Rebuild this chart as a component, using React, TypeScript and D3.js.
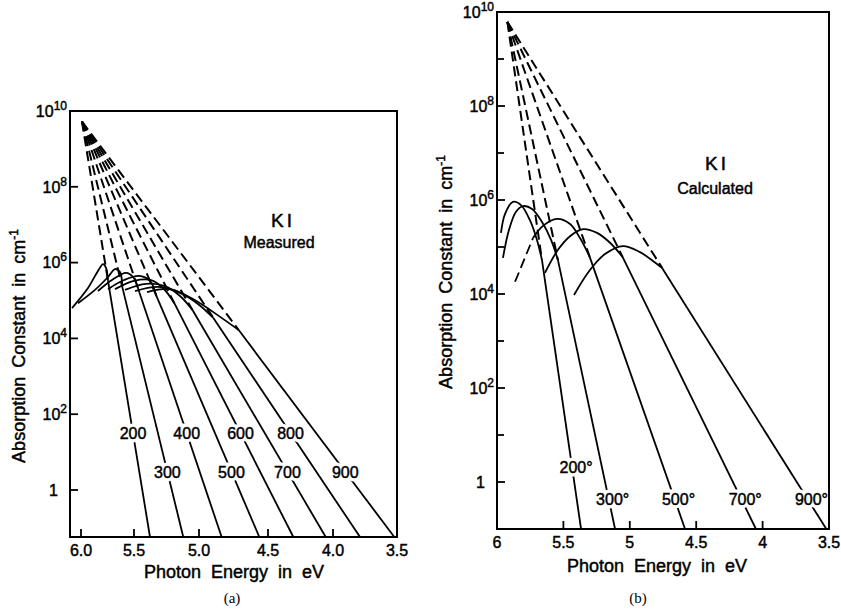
import React from 'react';
import * as d3 from 'd3';

const W = 841;
const H = 611;

// ---------- (a) Measured ----------
const measuredTemps = ['200', '300', '400', '500', '600', '700', '800', '900'];
const measuredApex = [5.991, 9.72]; // [eV, log10 alpha]
const measuredLineEnd = [5.377, 5.121, 4.836, 4.563, 4.305, 4.056, 3.789, 3.521];
const measuredMergeLog = [5.54, 5.36, 5.22, 5.12, 4.93, 4.75, 4.54, 4.22];
const measuredLabelLog = [1.5, 0.48, 1.5, 0.48, 1.5, 0.48, 1.5, 0.48];
const measuredPeaks = [
  [[6.085, 4.8], [5.934, 5.33], [5.84, 5.78], [5.792, 5.96], [5.764, 5.86]],
  [[6.028, 4.93], [5.868, 5.28], [5.745, 5.62], [5.679, 5.83], [5.632, 5.75]],
  [[5.84, 5.25], [5.708, 5.54], [5.575, 5.73], [5.509, 5.62]],
  [[5.745, 5.3], [5.594, 5.54], [5.462, 5.65], [5.377, 5.52]],
  [[5.679, 5.3], [5.5, 5.52], [5.369, 5.54], [5.277, 5.33]],
  [[5.585, 5.28], [5.408, 5.44], [5.262, 5.38], [5.146, 5.12]],
  [[5.492, 5.25], [5.315, 5.36], [5.146, 5.2], [5.008, 4.91]],
  [[5.4, 5.22], [5.223, 5.3], [5.046, 5.04], [4.899, 4.7]],
];
const measuredXTicks = [6.0, 5.5, 5.0, 4.5, 4.0, 3.5];
const measuredXTickLabels = ['6.0', '5.5', '5.0', '4.5', '4.0', '3.5'];
// hand-drawn axis: tick energies and their positions along the axis
const measuredAxisE = [6.104, 6.0, 5.5, 5.0, 4.5, 4.0, 3.5];
const measuredAxisPx = [70, 81, 134, 199, 268, 333, 397];

// ---------- (b) Calculated ----------
const calcTemps = ['200°', '300°', '500°', '700°', '900°'];
const calcApex = [5.922, 9.79];
const calcLineEnd = [5.367, 5.111, 4.584, 4.05, 3.52];
const calcMergeLog = [4.72, 4.72, 4.79, 4.79, 4.55];
const calcLabelLog = [0.32, -0.36, -0.36, -0.36, -0.36];
const calcPeaks = [
  [[5.97, 5.3], [5.94, 5.7], [5.88, 5.96], [5.819, 5.89], [5.752, 5.57], [5.699, 5.15]],
  [[5.955, 4.77], [5.91, 5.36], [5.857, 5.75], [5.804, 5.87], [5.736, 5.81], [5.661, 5.53], [5.593, 5.15]],
  [[5.729, 5.19], [5.654, 5.45], [5.548, 5.6], [5.45, 5.49], [5.375, 5.19]],
  [[5.639, 4.45], [5.541, 4.94], [5.45, 5.23], [5.352, 5.38], [5.247, 5.3], [5.149, 5.09]],
  [[5.42, 3.98], [5.3, 4.51], [5.187, 4.85], [5.051, 5.02], [4.923, 4.89], [4.833, 4.72]],
];
const calcLeadDashed = [[], [], [[5.864, 4.26], [5.797, 4.72], [5.729, 5.19]], [], []];
const calcXTicks = [6, 5.5, 5, 4.5, 4, 3.5];
const calcXTickLabels = ['6', '5.5', '5', '4.5', '4', '3.5'];

const yMajorExp = [10, 8, 6, 4, 2, 0];
const yMinorExp = [9, 7, 5, 3, 1];

const FONT = "'Liberation Sans', Arial, Helvetica, sans-serif";
const INK = { stroke: '#000', strokeWidth: 0.45 };

type PanelProps = {
  x: d3.ScaleLinear<number, number>;
  y: d3.ScaleLogarithmic<number, number>;
  left: number; right: number; top: number; bottom: number;
  apex: number[]; lineEnd: number[]; mergeLog: number[]; labelLog: number[];
  peaks: number[][][]; lead?: number[][][]; temps: string[];
  xTicks: number[]; xTickLabels: string[]; minor: boolean; firstTick: boolean;
  labelDx: number; xTitle: string; titleX: number; titleY: number;
  yTitleX: number; yTitleY: number; caption: string; captionX: number;
  name1: string; name1X: number; name1Y: number; name2: string; name2X: number; name2Y: number;
};

function Panel(p: PanelProps) {
  const { x, y } = p;
  const endLog = Math.log10(y.domain()[0]);
  const px = (d: number[]): [number, number] => [x(d[0]), y(Math.pow(10, d[1]))];
  // point on the straight (in pixels) Urbach line at a given log value
  const onLine = (i: number, L: number): [number, number] => {
    const a = px(p.apex);
    const b = px([p.lineEnd[i], endLog]);
    const yy = y(Math.pow(10, L));
    const t = (yy - a[1]) / (b[1] - a[1]);
    return [a[0] + t * (b[0] - a[0]), yy];
  };
  const pathOf = (pts: [number, number][]) => d3.line()(pts) || '';
  const curveOf = (pts: [number, number][]) => d3.line().curve(d3.curveCatmullRom.alpha(0.5))(pts) || '';
  return (
    <g>
      {p.temps.map((t, i) => {
        const a = px(p.apex);
        const m = onLine(i, p.mergeLog[i]);
        const b = px([p.lineEnd[i], endLog]);
        return (
          <g key={'l' + t}>
            <path d={pathOf([a, m])} fill="none" stroke="#000" strokeWidth={2} strokeDasharray="10 5" />
            <path d={pathOf([m, b])} fill="none" stroke="#000" strokeWidth={1.8} />
            <path d={curveOf([...p.peaks[i].map(px), m])} fill="none" stroke="#000" strokeWidth={1.8} />
            {p.lead && p.lead[i].length > 0 && (
              <path d={pathOf(p.lead[i].map(px))} fill="none" stroke="#000" strokeWidth={1.8} strokeDasharray="10 5" />
            )}
          </g>
        );
      })}
      {p.temps.map((t, i) => {
        const pt = onLine(i, p.labelLog[i]);
        return (
          <g key={'t' + t}>
            <text x={pt[0] + p.labelDx} y={pt[1]} dy="0.36em" textAnchor="middle"
              fontFamily={FONT} fontSize={16} stroke="#fff" strokeWidth={7} fill="#fff">{t}</text>
            <text x={pt[0] + p.labelDx} y={pt[1]} dy="0.36em" textAnchor="middle"
              fontFamily={FONT} fontSize={16} fill="#000" {...INK}>{t}</text>
          </g>
        );
      })}
      <rect x={p.left} y={p.top} width={p.right - p.left} height={p.bottom - p.top} fill="none" stroke="#000" strokeWidth={2} />
      {p.xTicks.map((v, i) => (
        <g key={'xt' + v}>
          {((i > 0 && i < p.xTicks.length - 1) || (i === 0 && p.firstTick)) && (
            <line x1={x(v)} x2={x(v)} y1={p.bottom} y2={p.bottom - 8} stroke="#000" strokeWidth={1.8} />
          )}
          <text x={x(v)} y={p.bottom + 19} textAnchor="middle" fontFamily={FONT} fontSize={16} {...INK}>{p.xTickLabels[i]}</text>
        </g>
      ))}
      {yMajorExp.map((e) => (
        <g key={'ye' + e}>
          {e < 10 && <line x1={p.left} x2={p.left + 8} y1={y(Math.pow(10, e))} y2={y(Math.pow(10, e))} stroke="#000" strokeWidth={1.8} />}
          {e === 0 ? (
            <text x={p.left - 12} y={y(1)} dy="0.36em" textAnchor="end" fontFamily={FONT} fontSize={16} {...INK}>1</text>
          ) : (
            <text x={p.left - 3} y={y(Math.pow(10, e))} dy="0.36em" textAnchor="end" fontFamily={FONT} fontSize={16} {...INK}>
              10<tspan dy="-7" fontSize={12}>{e}</tspan>
            </text>
          )}
        </g>
      ))}
      {p.minor && yMinorExp.map((e) => (
        <line key={'ym' + e} x1={p.left} x2={p.left + 7} y1={y(Math.pow(10, e))} y2={y(Math.pow(10, e))} stroke="#000" strokeWidth={1.8} />
      ))}
      <text x={p.titleX} y={p.titleY} textAnchor="middle" fontFamily={FONT} fontSize={18} wordSpacing={5} {...INK}>{p.xTitle}</text>
      <text transform={`translate(${p.yTitleX},${p.yTitleY}) rotate(-90)`} textAnchor="middle" fontFamily={FONT} fontSize={18} wordSpacing={4} {...INK}>
        Absorption Constant in cm<tspan dy="-7" fontSize={12}>-1</tspan>
      </text>
      <text x={p.name1X} y={p.name1Y} textAnchor="middle" fontFamily={FONT} fontSize={19} letterSpacing={3} {...INK}>{p.name1}</text>
      <text x={p.name2X} y={p.name2Y} textAnchor="middle" fontFamily={FONT} fontSize={16} {...INK}>{p.name2}</text>
      <text x={p.captionX} y={603} textAnchor="middle" fontFamily="'Liberation Serif', 'Times New Roman', serif" fontSize={15}>{p.caption}</text>
    </g>
  );
}

export default function App() {
  const xa = d3.scaleLinear().domain(measuredAxisE).range(measuredAxisPx);
  const ya = d3.scaleLog().domain([Math.pow(10, -1.24), 1e10]).range([537, 111]);
  const xb = d3.scaleLinear().domain([6, 3.5]).range([497, 829]);
  const yb = d3.scaleLog().domain([0.1, 1e10]).range([529, 12]);
  return (
    <svg width={W} height={H} style={{ position: 'absolute', left: 0, top: 0, background: '#fff' }}>
      <rect x={0} y={0} width={W} height={H} fill="#fff" />
      <Panel x={xa} y={ya} left={70} right={397} top={111} bottom={537}
        apex={measuredApex} lineEnd={measuredLineEnd} mergeLog={measuredMergeLog} labelLog={measuredLabelLog}
        peaks={measuredPeaks} temps={measuredTemps} xTicks={measuredXTicks} xTickLabels={measuredXTickLabels}
        minor={false} firstTick={true} labelDx={0} xTitle="Photon Energy in eV" titleX={234} titleY={578}
        yTitleX={25} yTitleY={346} caption="(a)" captionX={232}
        name1="KI" name1X={283} name1Y={227} name2="Measured" name2X={279} name2Y={248} />
      <Panel x={xb} y={yb} left={497} right={829} top={12} bottom={529}
        apex={calcApex} lineEnd={calcLineEnd} mergeLog={calcMergeLog} labelLog={calcLabelLog}
        peaks={calcPeaks} lead={calcLeadDashed} temps={calcTemps} xTicks={calcXTicks} xTickLabels={calcXTickLabels}
        minor={true} firstTick={false} labelDx={4} xTitle="Photon Energy in eV" titleX={657} titleY={572}
        yTitleX={452} yTitleY={272} caption="(b)" captionX={638}
        name1="KI" name1X={717} name1Y={170} name2="Calculated" name2X={715} name2Y={194} />
    </svg>
  );
}
